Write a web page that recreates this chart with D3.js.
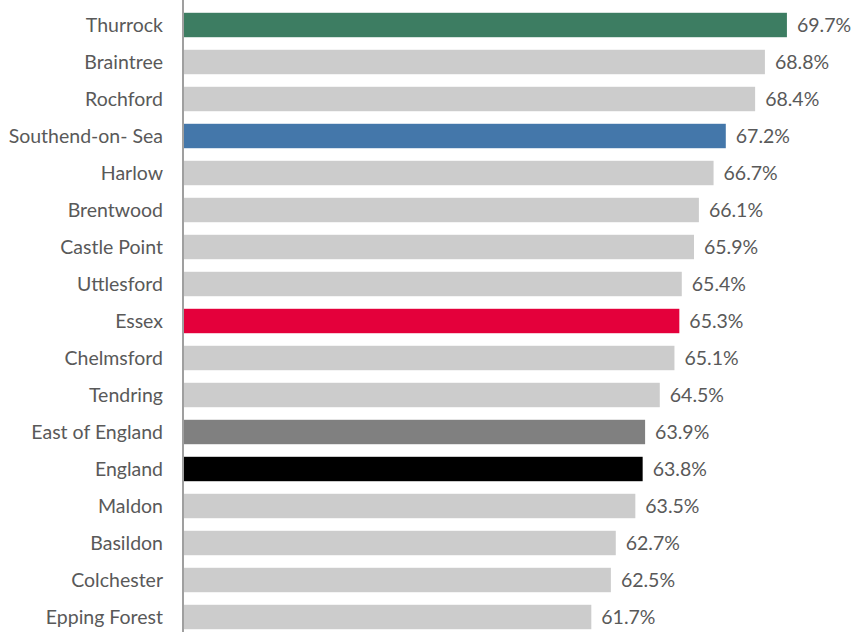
<!DOCTYPE html>
<html>
<head>
<meta charset="utf-8">
<script src="https://cdn.jsdelivr.net/npm/d3@7"></script>
<style>
  body { margin: 0; background: #fff; }
  svg text { font-family: Lato, 'Open Sans', sans-serif; fill: #595959; }
</style>
</head>
<body>
<div id="chart"></div>
<script>
// --- Data ---
const areas = ['Thurrock', 'Braintree', 'Rochford', 'Southend-on- Sea', 'Harlow', 'Brentwood',
    'Castle Point', 'Uttlesford', 'Essex', 'Chelmsford', 'Tendring', 'East of England',
    'England', 'Maldon', 'Basildon', 'Colchester', 'Epping Forest'];
const values = [69.7, 68.8, 68.4, 67.2, 66.7, 66.1, 65.9, 65.4, 65.3, 65.1, 64.5, 63.9,
    63.8, 63.5, 62.7, 62.5, 61.7];
const highlight = {
    'Thurrock': '#3D7D62', 'Southend-on- Sea': '#4477AA', 'Essex': '#E4003B',
    'East of England': '#808080', 'England': '#000000'
};
const defaultColor = '#CCCCCC';

const W = 853, H = 632;
const svg = d3.select('#chart').append('svg').attr('width', W).attr('height', H);

// axis starts at 45, not zero
const x = d3.scaleLinear().domain([45, 72]).range([183, 183 + 24.45 * 27]);
const y = d3.scaleBand().domain(areas).range([6.5, 6.5 + areas.length * 37])
    .paddingInner(0.34).paddingOuter(0.17);

// Bars
svg.selectAll('rect.bar').data(areas).join('rect')
    .attr('class', 'bar')
    .attr('x', x(45) + 1)
    .attr('y', d => y(d))
    .attr('width', (d, i) => x(values[i]) - x(45) - 1)
    .attr('height', y.bandwidth())
    .attr('fill', d => highlight[d] || defaultColor);

// Value labels
svg.selectAll('text.val').data(areas).join('text')
    .attr('class', 'val')
    .attr('x', (d, i) => x(values[i]) + 10)
    .attr('y', d => y(d) + y.bandwidth() / 2 + 7)
    .style('font-size', '19.5px')
    .text((d, i) => values[i].toFixed(1) + '%');

// Category axis
const yAxis = svg.append('g').attr('transform', `translate(${x(45)},0)`)
    .call(d3.axisLeft(y).tickSize(0).tickPadding(20));
yAxis.select('.domain').remove();
yAxis.selectAll('text').style('font-size', '19.5px').style('fill', '#595959')
    .attr('dy', '0.36em');
svg.append('line')
    .attr('x1', x(45)).attr('x2', x(45))
    .attr('y1', 0).attr('y2', H)
    .attr('stroke', '#7F7F7F').attr('stroke-width', 1.5);
</script>
</body>
</html>
